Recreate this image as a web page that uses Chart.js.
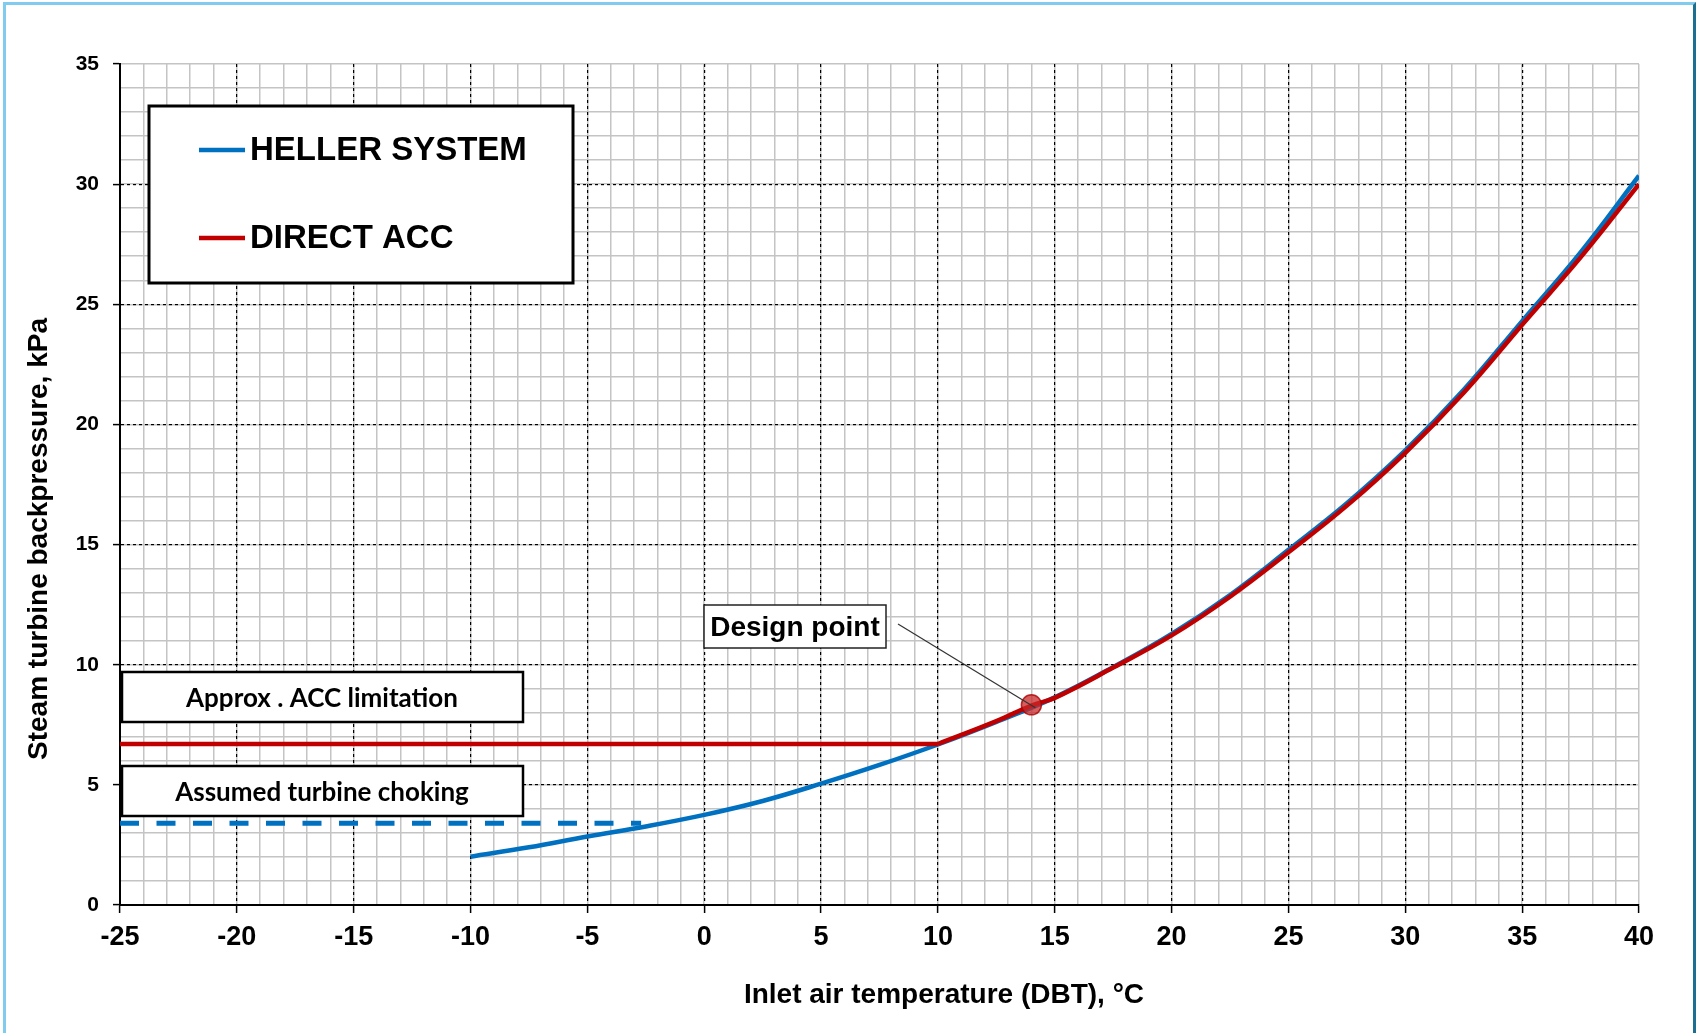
<!DOCTYPE html>
<html>
<head>
<meta charset="utf-8">
<title>Steam turbine backpressure vs inlet air temperature</title>
<script src="https://cdn.jsdelivr.net/npm/chart.js@4.4.0/dist/chart.umd.min.js"></script>
<style>
  html, body { margin: 0; padding: 0; background: #fff; }
  #wrap { position: relative; width: 1696px; height: 1033px; overflow: hidden; }
  #wrap canvas { position: absolute; left: 0; top: 0; }
  #frame { position: absolute; left: 3px; top: 2px; width: 1687px; height: 1100px;
           border: 3px solid #80cbee; border-right-color: #1d6f92; pointer-events: none; }
</style>
</head>
<body>
<div id="wrap">
  <canvas id="chart" width="1696" height="1033"></canvas>
  <div id="frame"></div>
</div>
<script>
// axis ranges (kPa vs deg C)
const tempRange = [-25, 40];
const pressureRange = [0, 35];
const majorStep = 5;
const minorStep = 1;

// Heller system (indirect dry cooling)
const hellerTemps = [-10, -7.5, -5, -2.5, 0, 2.5, 5, 7.5, 10, 12.5, 15, 17.5, 20, 22.5, 25, 27.5, 30, 32.5, 35, 37.5, 40];
const hellerPressure = [2.01, 2.40, 2.85, 3.27, 3.75, 4.33, 5.05, 5.83, 6.68, 7.62, 8.64, 9.9, 11.28, 12.9, 14.78, 16.72, 18.92, 21.44, 24.3, 27.16, 30.35];

// direct air cooled condenser: flat at its limit, then rising
const accFlatTemps = [-25, 10];
const accFlatPressure = [6.7, 6.7];
const accTemps = [10, 12.5, 14, 15, 17.5, 20, 22.5, 25, 27.5, 30, 32.5, 35, 37.5, 40];
const accPressure = [6.7, 7.65, 8.3, 8.62, 9.88, 11.22, 12.83, 14.68, 16.62, 18.82, 21.32, 24.15, 26.95, 30.0];

// turbine choking level
const chokingTemps = [-25, -2.7];
const chokingPressure = [3.4, 3.4];

// design point
const designTemp = [14];
const designPressure = [8.33];

const BLUE = '#0070c0';
const RED = '#c00000';
const FONT = "'Liberation Sans', Arial, sans-serif";

const pts = (xs, ys) => xs.map((x, i) => ({ x: x, y: ys[i] }));

// boxes, legend, leader line and axis titles
const overlay = {
  id: 'overlay',
  afterDatasetsDraw(chart) {
    const ctx = chart.ctx;
    ctx.save();

    // legend
    ctx.fillStyle = '#fff';
    ctx.fillRect(149, 106, 424, 177);
    ctx.strokeStyle = '#000';
    ctx.lineWidth = 3;
    ctx.strokeRect(149, 106, 424, 177);
    const entries = chart.data.datasets.filter(d => d.inLegend);
    entries.forEach((d, i) => {
      const y = 150 + i * 88;
      ctx.strokeStyle = d.borderColor;
      ctx.lineWidth = 4.5;
      ctx.beginPath();
      ctx.moveTo(199, y);
      ctx.lineTo(245, y);
      ctx.stroke();
      ctx.fillStyle = '#000';
      ctx.font = 'bold 33px ' + FONT;
      ctx.textAlign = 'left';
      ctx.textBaseline = 'alphabetic';
      ctx.fillText(d.label, 250, y + 10);
    });

    // note boxes on the left
    const note = (text, top) => {
      ctx.fillStyle = '#fff';
      ctx.fillRect(122, top, 401, 50);
      ctx.strokeStyle = '#000';
      ctx.lineWidth = 2.5;
      ctx.strokeRect(122, top, 401, 50);
      ctx.fillStyle = '#000';
      ctx.font = 'bold 26px Lato, ' + FONT;
      ctx.textAlign = 'center';
      ctx.textBaseline = 'alphabetic';
      ctx.fillText(text, 322, top + 35);
    };
    note('Approx . ACC limitation', 672);
    note('Assumed turbine choking', 766);

    // design point label and leader
    const px = chart.scales.x.getPixelForValue(designTemp[0]);
    const py = chart.scales.y.getPixelForValue(designPressure[0]);
    ctx.strokeStyle = '#333';
    ctx.lineWidth = 1.2;
    ctx.beginPath();
    ctx.moveTo(898, 624);
    ctx.lineTo(px + 4, py + 3);
    ctx.stroke();
    ctx.fillStyle = '#fff';
    ctx.fillRect(704, 605, 182, 43);
    ctx.strokeStyle = '#222';
    ctx.lineWidth = 1.5;
    ctx.strokeRect(704, 605, 182, 43);
    ctx.fillStyle = '#000';
    ctx.font = 'bold 28px ' + FONT;
    ctx.textAlign = 'center';
    ctx.fillText('Design point', 795, 636);

    // axis titles
    ctx.font = 'bold 28px ' + FONT;
    ctx.fillText('Inlet air temperature (DBT), \u00b0C', 944, 1003);
    ctx.translate(47, 539);
    ctx.rotate(-Math.PI / 2);
    ctx.fillText('Steam turbine backpressure, kPa', 0, 0);
    ctx.restore();
  }
};

const majorGridColor = max => c => (c.tick && c.tick.value === max) ? 'rgba(0,0,0,0)' : '#000';

new Chart(document.getElementById('chart'), {
  type: 'line',
  data: {
    datasets: [
      {
        label: 'HELLER SYSTEM',
        inLegend: true,
        data: pts(hellerTemps, hellerPressure),
        borderColor: BLUE,
        borderWidth: 4.5,
        pointRadius: 0,
        tension: 0.4,
        order: 3
      },
      {
        label: 'DIRECT ACC',
        inLegend: true,
        data: pts(accTemps, accPressure),
        borderColor: RED,
        borderWidth: 4.5,
        pointRadius: 0,
        tension: 0.4,
        order: 2
      },
      {
        label: 'ACC limit',
        data: pts(accFlatTemps, accFlatPressure),
        borderColor: RED,
        borderWidth: 4.5,
        pointRadius: 0,
        order: 2
      },
      {
        label: 'Assumed turbine choking',
        data: pts(chokingTemps, chokingPressure),
        borderColor: BLUE,
        borderWidth: 5,
        borderDash: [19, 17.5],
        pointRadius: 0,
        order: 4
      },
      {
        label: 'Design point',
        data: pts(designTemp, designPressure),
        showLine: false,
        pointRadius: 10,
        pointBackgroundColor: 'rgba(200, 40, 40, 0.75)',
        pointBorderColor: 'rgba(170, 0, 0, 0.8)',
        pointBorderWidth: 1.5,
        order: 1
      }
    ]
  },
  options: {
    responsive: false,
    animation: false,
    layout: { padding: { left: 0, top: 64, right: 57, bottom: 0 } },
    plugins: {
      legend: { display: false },
      tooltip: { enabled: false }
    },
    scales: {
      // 1-unit light grid
      x: {
        type: 'linear', position: 'bottom',
        min: tempRange[0], max: tempRange[1],
        afterFit: s => { s.height = 0; },
        ticks: { display: false, stepSize: minorStep },
        grid: { color: '#c4c4c4', lineWidth: 1.5, drawTicks: false, z: -1 },
        border: { display: false }
      },
      y: {
        type: 'linear', position: 'left',
        min: pressureRange[0], max: pressureRange[1],
        afterFit: s => { s.width = 0; },
        ticks: { display: false, stepSize: minorStep },
        grid: { color: '#c4c4c4', lineWidth: 1.5, drawTicks: false, z: -1 },
        border: { display: false }
      },
      // 5-unit dashed grid with labels
      xMajor: {
        type: 'linear', position: 'bottom',
        min: tempRange[0], max: tempRange[1],
        afterFit: s => { s.height = 128; },
        ticks: {
          stepSize: majorStep, autoSkip: false, maxRotation: 0, padding: 8,
          color: '#000', font: { family: FONT, size: 27, weight: 'bold' }
        },
        grid: { color: majorGridColor(tempRange[1]), lineWidth: 1.2, tickLength: 8, tickColor: '#000', tickWidth: 1.5, z: 0 },
        border: { display: true, color: '#000', width: 2, dash: [3, 3] }
      },
      yMajor: {
        type: 'linear', position: 'left',
        min: pressureRange[0], max: pressureRange[1],
        afterFit: s => { s.width = 120; },
        ticks: {
          stepSize: majorStep, autoSkip: false, padding: 14,
          color: '#000', font: { family: FONT, size: 21, weight: 'bold' }
        },
        grid: { color: majorGridColor(pressureRange[1]), lineWidth: 1.2, tickLength: 7, tickColor: '#000', tickWidth: 1.5, z: 0 },
        border: { display: true, color: '#000', width: 2, dash: [3, 3] }
      }
    }
  },
  plugins: [overlay]
});
</script>
</body>
</html>
